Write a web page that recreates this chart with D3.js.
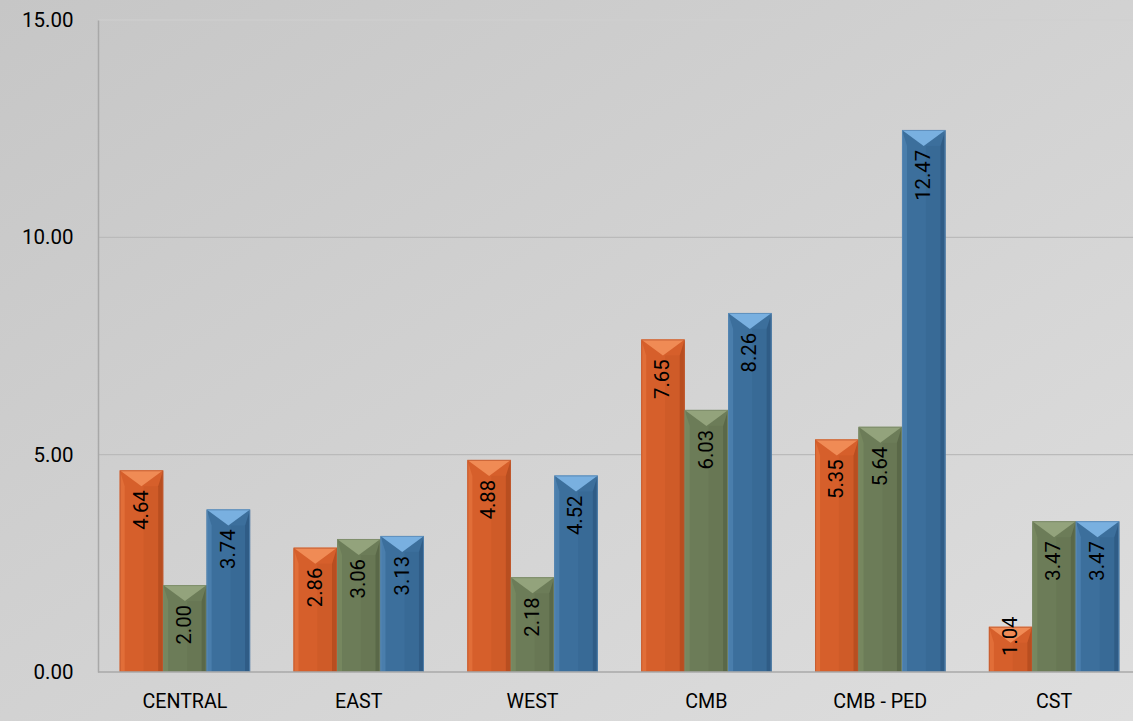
<!DOCTYPE html>
<html><head><meta charset="utf-8">
<script src="https://cdn.jsdelivr.net/npm/d3@7/dist/d3.min.js"></script>
<style>body{margin:0;overflow:hidden}svg{display:block}</style>
</head><body>
<svg id="c" width="1133" height="721"></svg>
<script>
const categories = ["CENTRAL","EAST","WEST","CMB","CMB - PED","CST"];
const seriesA = [4.64, 2.86, 4.88, 7.65, 5.35, 1.04];
const seriesB = [2.00, 3.06, 2.18, 6.03, 5.64, 3.47];
const seriesC = [3.74, 3.13, 4.52, 8.26, 12.47, 3.47];
const yTicks = [0, 5, 10, 15];

const W = 1133, H = 721;
const m = {l: 98, t: 20, r: -8, b: 49};
const svg = d3.select("#c");
const defs = svg.append("defs");
const bg = defs.append("linearGradient").attr("id","bg").attr("x1","0").attr("y1","0").attr("x2","1").attr("y2","1");
bg.append("stop").attr("offset","0").attr("stop-color","#c6c6c6");
bg.append("stop").attr("offset","1").attr("stop-color","#dedede");
svg.append("rect").attr("width",W).attr("height",H).attr("fill","url(#bg)");

const font = "Roboto, Lato, sans-serif";
function fitSize(str, target) {
  const t = svg.append("text").attr("font-family", font).attr("font-size", 100).text(str);
  const w = t.node().getComputedTextLength(); t.remove();
  return 100 * target / w;
}
const tickFs = fitSize("15.00", 51.5);
const catFs = fitSize("CENTRAL", 85);
const lblFs = fitSize("7.65", 39.5);

const x0 = d3.scaleBand().domain(categories).range([m.l, W - m.r]).paddingInner(0.25).paddingOuter(0.125);
const keys = ["a","b","c"];
const x1 = d3.scaleBand().domain(keys).range([0, x0.bandwidth()]);
const y = d3.scaleLinear().domain([0, 15]).range([H - m.b, m.t]);

svg.append("g").selectAll("line").data(yTicks.filter(d => d > 0)).join("line")
  .attr("x1", m.l).attr("x2", W).attr("y1", d => y(d)).attr("y2", d => y(d))
  .attr("stroke", d => d === 15 ? "#d0d0d0" : "#bababa").attr("stroke-width", 1.2);
const yAxis = d3.axisLeft(y).tickValues(yTicks).tickFormat(d3.format(".2f")).tickSize(0).tickPadding(24.5);
const ga = svg.append("g").attr("transform", `translate(${m.l},0)`).call(yAxis);
ga.select(".domain").attr("stroke", "#a8a8a8").attr("stroke-width", 1.5);
ga.selectAll("text").attr("font-family", font).attr("font-size", tickFs).attr("fill", "#000");

const colors = {
  a: {base:"#d65f2b", top:"#f08b55", left:"#e16e38", right:"#b84e20", edge:"#c05a30"},
  b: {base:"#6c7c58", top:"#93a37c", left:"#76875f", right:"#5a6848", edge:"#7a8a68"},
  c: {base:"#3c6f9c", top:"#79b0e0", left:"#4a7eac", right:"#2f5c86", edge:"#5a8ab5"}
};
const data = categories.map((c, i) => ({cat: c, vals: [
  {k:"a", v: seriesA[i]}, {k:"b", v: seriesB[i]}, {k:"c", v: seriesC[i]}]}));

const groups = svg.append("g").selectAll("g").data(data).join("g")
  .attr("transform", d => `translate(${x0(d.cat)},0)`);
const bars = groups.selectAll("g").data(d => d.vals).join("g");
bars.each(function(d) {
  const g = d3.select(this);
  const bx = x1(d.k), bw = x1.bandwidth();
  const top = y(d.v), bot = y(0), h = bot - top;
  const col = colors[d.k];
  const bev = Math.min(16, h / 2), side = 5;
  g.append("rect").attr("x", bx).attr("y", top).attr("width", bw).attr("height", h).attr("fill", col.base);
  g.append("polygon").attr("points", [[bx,top],[bx+side,top+bev],[bx+side,bot],[bx,bot]].join(" ")).attr("fill", col.left);
  g.append("polygon").attr("points", [[bx+bw,top],[bx+bw-side,top+bev],[bx+bw-side,bot],[bx+bw,bot]].join(" ")).attr("fill", col.right);
  g.append("rect").attr("x", bx + bw*0.55).attr("y", top + bev).attr("width", bw*0.45 - side).attr("height", Math.max(0, h - bev)).attr("fill", col.right).attr("opacity", 0.22);
  g.append("polygon").attr("points", [[bx,top],[bx+bw,top],[bx+bw/2,top+bev]].join(" ")).attr("fill", col.top);
  g.append("rect").attr("x", bx+0.5).attr("y", top+0.5).attr("width", bw-1).attr("height", h-1)
    .attr("fill", "none").attr("stroke", col.edge).attr("stroke-width", 1).attr("opacity", 0.8);
  const txt = g.append("text").text(d3.format(".2f")(d.v))
    .attr("font-family", font).attr("font-size", lblFs).attr("fill", "#000")
    .attr("text-anchor", "end").attr("dominant-baseline", "middle");
  const len = txt.node().getComputedTextLength();
  const endY = Math.min(top + 20, bot - 16 - len);
  txt.attr("transform", `translate(${bx + bw/2 + 1},${endY}) rotate(-90)`);
});

svg.append("line").attr("x1", m.l).attr("x2", W).attr("y1", y(0)).attr("y2", y(0))
  .attr("stroke", "#a8a8a8").attr("stroke-width", 1.5);
const xAxis = d3.axisBottom(x0).tickSize(0).tickPadding(22);
const gx = svg.append("g").attr("transform", `translate(0,${y(0)})`).call(xAxis);
gx.select(".domain").remove();
gx.selectAll("text").attr("font-family", font).attr("font-size", catFs).attr("fill", "#000");
</script>
</body></html>
